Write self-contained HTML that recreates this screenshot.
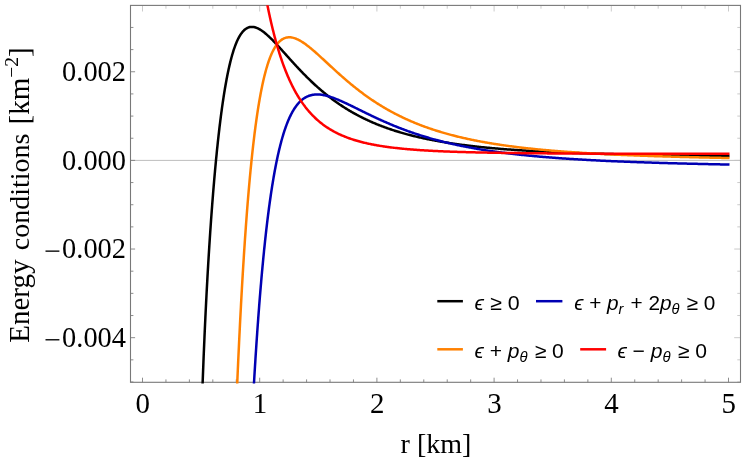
<!DOCTYPE html>
<html><head><meta charset="utf-8"><title>Energy conditions</title>
<style>html,body{margin:0;padding:0;background:#fff;}body{width:747px;height:462px;overflow:hidden;}svg{display:block;will-change:transform;}text{font-family:"Liberation Serif",serif;fill:#000;}.lg{font-family:"Liberation Sans",sans-serif;}</style></head><body>
<svg width="747" height="462" viewBox="0 0 747 462">
<rect x="0" y="0" width="747" height="462" fill="#ffffff"/>
<defs><clipPath id="cp"><rect x="130.00" y="5.20" width="611.00" height="378.20"/></clipPath></defs>
<line x1="130.50" y1="160.40" x2="740.50" y2="160.40" stroke="#bebebe" stroke-width="1"/>
<path d="M142.50 382.30 v-4.60 M165.94 382.30 v-2.90 M189.38 382.30 v-2.90 M212.82 382.30 v-2.90 M236.26 382.30 v-2.90 M259.70 382.30 v-4.60 M283.14 382.30 v-2.90 M306.58 382.30 v-2.90 M330.02 382.30 v-2.90 M353.46 382.30 v-2.90 M376.90 382.30 v-4.60 M400.34 382.30 v-2.90 M423.78 382.30 v-2.90 M447.22 382.30 v-2.90 M470.66 382.30 v-2.90 M494.10 382.30 v-4.60 M517.54 382.30 v-2.90 M540.98 382.30 v-2.90 M564.42 382.30 v-2.90 M587.86 382.30 v-2.90 M611.30 382.30 v-4.60 M634.74 382.30 v-2.90 M658.18 382.30 v-2.90 M681.62 382.30 v-2.90 M705.06 382.30 v-2.90 M728.50 382.30 v-4.60 M130.50 382.00 h2.90 M130.50 359.84 h2.90 M130.50 337.68 h4.60 M130.50 315.52 h2.90 M130.50 293.36 h2.90 M130.50 271.20 h2.90 M130.50 249.04 h4.60 M130.50 226.88 h2.90 M130.50 204.72 h2.90 M130.50 182.56 h2.90 M130.50 160.40 h4.60 M130.50 138.24 h2.90 M130.50 116.08 h2.90 M130.50 93.92 h2.90 M130.50 71.76 h4.60 M130.50 49.60 h2.90 M130.50 27.44 h2.90" stroke="#808080" stroke-width="0.9" fill="none"/>
<path d="M142.50 5.40 v6.10 M165.94 5.40 v3.30 M189.38 5.40 v3.30 M212.82 5.40 v3.30 M236.26 5.40 v3.30 M259.70 5.40 v6.10 M283.14 5.40 v3.30 M306.58 5.40 v3.30 M330.02 5.40 v3.30 M353.46 5.40 v3.30 M376.90 5.40 v6.10 M400.34 5.40 v3.30 M423.78 5.40 v3.30 M447.22 5.40 v3.30 M470.66 5.40 v3.30 M494.10 5.40 v6.10 M517.54 5.40 v3.30 M540.98 5.40 v3.30 M564.42 5.40 v3.30 M587.86 5.40 v3.30 M611.30 5.40 v6.10 M634.74 5.40 v3.30 M658.18 5.40 v3.30 M681.62 5.40 v3.30 M705.06 5.40 v3.30 M728.50 5.40 v6.10 M740.50 382.00 h-3.20 M740.50 359.84 h-3.20 M740.50 337.68 h-6.30 M740.50 315.52 h-3.20 M740.50 293.36 h-3.20 M740.50 271.20 h-3.20 M740.50 249.04 h-6.30 M740.50 226.88 h-3.20 M740.50 204.72 h-3.20 M740.50 182.56 h-3.20 M740.50 160.40 h-6.30 M740.50 138.24 h-3.20 M740.50 116.08 h-3.20 M740.50 93.92 h-3.20 M740.50 71.76 h-6.30 M740.50 49.60 h-3.20 M740.50 27.44 h-3.20" stroke="#c2c2c2" stroke-width="0.85" fill="none"/>
<rect x="130.50" y="5.40" width="610.00" height="376.90" fill="none" stroke="#787878" stroke-width="1.1"/>
<g clip-path="url(#cp)" fill="none" stroke-width="2.50" stroke-linejoin="round" stroke-linecap="butt">
<path d="M202.37 390.33 L202.54 385.41 L202.72 380.57 L202.90 375.83 L203.08 371.16 L203.26 366.58 L203.43 362.08 L203.61 357.66 L203.79 353.31 L203.97 349.03 L204.15 344.83 L204.33 340.69 L204.50 336.62 L204.68 332.61 L204.86 328.67 L205.04 324.78 L205.22 320.95 L205.39 317.18 L205.57 313.47 L205.75 309.81 L205.93 306.21 L206.11 302.65 L206.29 299.14 L206.46 295.69 L206.64 292.28 L206.82 288.92 L207.00 285.60 L207.18 282.32 L207.35 279.09 L207.53 275.90 L207.71 272.76 L207.89 269.65 L208.07 266.58 L208.24 263.55 L208.42 260.56 L208.60 257.60 L208.78 254.68 L208.96 251.80 L209.14 248.95 L209.31 246.13 L209.49 243.35 L209.67 240.60 L209.85 237.88 L210.03 235.19 L210.20 232.54 L210.38 229.91 L210.56 227.31 L210.74 224.75 L210.92 222.21 L211.09 219.70 L211.27 217.22 L211.45 214.77 L211.63 212.34 L211.81 209.94 L211.99 207.56 L212.16 205.22 L212.34 202.89 L212.52 200.60 L212.70 198.32 L212.88 196.08 L213.05 193.85 L213.23 191.65 L213.41 189.47 L213.59 187.32 L213.77 185.19 L213.95 183.08 L214.12 181.00 L214.30 178.93 L214.48 176.89 L214.66 174.87 L214.84 172.87 L215.01 170.90 L215.19 168.94 L215.37 167.00 L215.55 165.09 L215.73 163.19 L215.90 161.32 L216.08 159.46 L216.26 157.62 L216.44 155.81 L216.62 154.01 L216.80 152.23 L216.97 150.47 L217.15 148.73 L217.33 147.01 L217.51 145.30 L217.69 143.62 L217.86 141.95 L218.04 140.30 L218.22 138.67 L218.40 137.05 L218.58 135.45 L218.76 133.87 L218.93 132.31 L219.11 130.76 L219.29 129.23 L219.47 127.72 L219.65 126.22 L219.82 124.74 L220.00 123.28 L220.18 121.83 L220.36 120.39 L220.54 118.98 L220.71 117.57 L220.89 116.19 L221.07 114.82 L221.25 113.46 L221.43 112.12 L221.61 110.80 L221.78 109.49 L221.96 108.19 L222.14 106.91 L222.32 105.64 L222.50 104.39 L222.67 103.15 L222.85 101.93 L223.03 100.72 L223.21 99.52 L223.39 98.34 L223.57 97.17 L223.74 96.02 L223.92 94.87 L224.10 93.75 L224.28 92.63 L224.46 91.53 L224.63 90.44 L224.81 89.37 L224.99 88.30 L225.17 87.25 L225.35 86.21 L225.52 85.19 L225.70 84.18 L225.88 83.18 L226.06 82.19 L226.24 81.21 L226.42 80.25 L226.59 79.30 L226.77 78.36 L226.95 77.43 L227.13 76.51 L227.31 75.61 L227.48 74.71 L227.66 73.83 L227.84 72.96 L228.02 72.10 L228.20 71.25 L228.38 70.41 L228.55 69.58 L228.91 67.96 L229.27 66.38 L229.62 64.85 L229.98 63.35 L230.33 61.89 L230.69 60.48 L231.05 59.10 L231.40 57.76 L231.76 56.46 L232.12 55.19 L232.47 53.97 L232.83 52.77 L233.19 51.62 L233.54 50.49 L233.90 49.40 L234.25 48.35 L234.61 47.33 L234.97 46.34 L235.32 45.38 L235.68 44.45 L236.04 43.55 L236.39 42.68 L236.75 41.85 L237.10 41.04 L237.46 40.25 L237.82 39.50 L238.17 38.77 L238.53 38.08 L238.89 37.40 L239.24 36.75 L239.78 35.83 L240.31 34.96 L240.85 34.14 L241.38 33.38 L241.91 32.67 L242.45 32.00 L242.98 31.38 L243.52 30.81 L244.05 30.29 L244.59 29.80 L245.30 29.22 L246.01 28.72 L246.72 28.28 L247.44 27.90 L248.15 27.59 L249.04 27.29 L249.93 27.08 L250.82 26.95 L251.89 26.90 L252.96 26.96 L253.85 27.08 L254.74 27.27 L255.63 27.53 L256.52 27.84 L257.23 28.13 L257.95 28.45 L258.66 28.80 L259.37 29.19 L260.09 29.60 L260.80 30.04 L261.51 30.50 L262.22 30.99 L262.94 31.51 L263.65 32.04 L264.36 32.60 L265.07 33.17 L265.79 33.76 L266.50 34.37 L267.03 34.84 L267.57 35.32 L268.10 35.81 L268.64 36.30 L269.17 36.80 L269.71 37.31 L270.24 37.82 L270.77 38.35 L271.31 38.87 L271.84 39.41 L272.38 39.95 L272.91 40.49 L273.45 41.04 L273.98 41.59 L274.51 42.15 L275.05 42.71 L275.58 43.28 L276.12 43.85 L276.65 44.42 L277.19 45.00 L277.72 45.57 L278.26 46.16 L278.79 46.74 L279.32 47.32 L279.86 47.91 L280.39 48.50 L280.93 49.09 L281.46 49.68 L282.00 50.28 L282.53 50.87 L283.07 51.47 L283.60 52.06 L284.13 52.66 L284.67 53.26 L285.20 53.85 L285.74 54.45 L286.27 55.05 L286.81 55.64 L287.34 56.24 L287.88 56.84 L288.41 57.43 L288.94 58.03 L289.48 58.62 L290.01 59.22 L290.55 59.81 L291.08 60.40 L291.62 60.99 L292.15 61.58 L292.69 62.17 L293.22 62.76 L293.75 63.34 L294.29 63.92 L294.82 64.51 L295.36 65.09 L295.89 65.67 L296.43 66.24 L296.96 66.82 L297.50 67.39 L298.03 67.96 L298.56 68.53 L299.10 69.10 L299.63 69.66 L300.17 70.23 L300.70 70.79 L301.24 71.35 L301.77 71.90 L302.31 72.46 L302.84 73.01 L303.37 73.56 L303.91 74.10 L304.44 74.65 L304.98 75.19 L305.51 75.73 L306.05 76.26 L306.58 76.80 L307.12 77.33 L307.65 77.86 L308.18 78.38 L308.72 78.90 L309.25 79.42 L309.79 79.94 L310.32 80.46 L310.86 80.97 L311.39 81.48 L311.93 81.98 L312.46 82.49 L312.99 82.99 L313.53 83.49 L314.06 83.98 L314.60 84.48 L315.13 84.97 L315.67 85.45 L316.20 85.94 L316.74 86.42 L317.27 86.90 L317.80 87.37 L318.34 87.84 L318.87 88.31 L319.41 88.78 L320.12 89.40 L320.83 90.01 L321.55 90.62 L322.26 91.22 L322.97 91.82 L323.68 92.41 L324.40 93.00 L325.11 93.58 L325.82 94.16 L326.53 94.73 L327.25 95.30 L327.96 95.87 L328.67 96.42 L329.38 96.98 L330.10 97.52 L330.81 98.07 L331.52 98.61 L332.23 99.14 L332.95 99.67 L333.66 100.19 L334.37 100.71 L335.08 101.23 L335.80 101.74 L336.51 102.24 L337.22 102.74 L337.93 103.24 L338.65 103.73 L339.36 104.21 L340.07 104.70 L340.79 105.17 L341.50 105.65 L342.21 106.12 L342.92 106.58 L343.64 107.04 L344.35 107.50 L345.06 107.95 L345.77 108.39 L346.49 108.84 L347.20 109.28 L347.91 109.71 L348.62 110.14 L349.34 110.57 L350.05 110.99 L350.76 111.41 L351.47 111.82 L352.19 112.23 L352.90 112.64 L353.61 113.04 L354.32 113.44 L355.04 113.83 L355.75 114.22 L356.46 114.61 L357.17 114.99 L357.89 115.37 L358.60 115.75 L359.31 116.12 L360.03 116.49 L360.74 116.85 L361.45 117.21 L362.16 117.57 L362.88 117.93 L363.59 118.28 L364.30 118.62 L365.01 118.97 L365.73 119.31 L366.44 119.65 L367.15 119.98 L367.86 120.31 L368.58 120.64 L369.29 120.96 L370.00 121.28 L370.71 121.60 L371.43 121.92 L372.14 122.23 L372.85 122.54 L373.56 122.84 L374.28 123.15 L374.99 123.45 L375.70 123.74 L376.41 124.04 L377.13 124.33 L377.84 124.62 L378.73 124.97 L379.62 125.33 L380.51 125.67 L381.40 126.02 L382.29 126.36 L383.18 126.69 L384.07 127.02 L384.97 127.35 L385.86 127.67 L386.75 127.99 L387.64 128.31 L388.53 128.62 L389.42 128.93 L390.31 129.23 L391.20 129.53 L392.09 129.83 L392.98 130.12 L393.87 130.41 L394.76 130.69 L395.65 130.98 L396.55 131.26 L397.44 131.53 L398.33 131.80 L399.22 132.07 L400.11 132.34 L401.00 132.60 L401.89 132.86 L402.78 133.12 L403.67 133.37 L404.56 133.62 L405.45 133.87 L406.34 134.11 L407.23 134.35 L408.12 134.59 L409.02 134.83 L409.91 135.06 L410.80 135.29 L411.69 135.51 L412.58 135.74 L413.47 135.96 L414.36 136.18 L415.25 136.40 L416.14 136.61 L417.03 136.82 L417.92 137.03 L418.81 137.24 L419.70 137.44 L420.59 137.64 L421.49 137.84 L422.38 138.04 L423.27 138.23 L424.16 138.42 L425.05 138.61 L425.94 138.80 L426.83 138.99 L427.72 139.17 L428.61 139.35 L429.50 139.53 L430.39 139.71 L431.28 139.88 L432.17 140.06 L433.06 140.23 L433.96 140.39 L434.85 140.56 L435.74 140.73 L436.63 140.89 L437.52 141.05 L438.41 141.21 L439.30 141.37 L440.19 141.52 L441.08 141.68 L441.97 141.83 L442.86 141.98 L443.75 142.13 L444.64 142.27 L445.54 142.42 L446.43 142.56 L447.32 142.70 L448.21 142.84 L449.10 142.98 L449.99 143.12 L450.88 143.26 L451.77 143.39 L452.66 143.52 L453.55 143.65 L454.44 143.78 L455.33 143.91 L456.22 144.04 L457.11 144.16 L458.01 144.29 L458.90 144.41 L459.79 144.53 L460.68 144.65 L461.57 144.77 L462.46 144.88 L463.35 145.00 L464.24 145.11 L465.13 145.23 L466.02 145.34 L466.91 145.45 L467.80 145.56 L468.87 145.69 L469.94 145.82 L471.01 145.94 L472.08 146.07 L473.15 146.19 L474.22 146.31 L475.29 146.43 L476.35 146.55 L477.42 146.66 L478.49 146.78 L479.56 146.89 L480.63 147.01 L481.70 147.12 L482.77 147.23 L483.84 147.33 L484.91 147.44 L485.97 147.54 L487.04 147.65 L488.11 147.75 L489.18 147.85 L490.25 147.95 L491.32 148.05 L492.39 148.15 L493.46 148.24 L494.53 148.34 L495.59 148.43 L496.66 148.52 L497.73 148.61 L498.80 148.70 L499.87 148.79 L500.94 148.88 L502.01 148.97 L503.08 149.05 L504.15 149.14 L505.21 149.22 L506.28 149.30 L507.35 149.38 L508.42 149.46 L509.49 149.54 L510.56 149.62 L511.63 149.70 L512.70 149.78 L513.77 149.85 L514.83 149.93 L515.90 150.00 L516.97 150.07 L518.04 150.14 L519.11 150.22 L520.18 150.29 L521.25 150.35 L522.32 150.42 L523.39 150.49 L524.45 150.56 L525.52 150.62 L526.59 150.69 L527.66 150.75 L528.73 150.82 L529.80 150.88 L530.87 150.94 L531.94 151.00 L533.00 151.06 L534.07 151.12 L535.14 151.18 L536.21 151.24 L537.28 151.30 L538.35 151.36 L539.42 151.41 L540.49 151.47 L541.56 151.52 L542.62 151.58 L543.69 151.63 L544.76 151.69 L545.83 151.74 L546.90 151.79 L547.97 151.84 L549.04 151.89 L550.11 151.94 L551.18 151.99 L552.24 152.04 L553.31 152.09 L554.38 152.14 L555.45 152.19 L556.52 152.23 L557.59 152.28 L558.66 152.33 L559.73 152.37 L560.80 152.42 L561.86 152.46 L562.93 152.50 L564.00 152.55 L565.07 152.59 L566.14 152.63 L567.21 152.67 L568.28 152.72 L569.35 152.76 L570.42 152.80 L571.48 152.84 L572.55 152.88 L573.62 152.92 L574.69 152.96 L575.76 152.99 L576.83 153.03 L577.90 153.07 L578.97 153.11 L580.04 153.14 L581.10 153.18 L582.17 153.22 L583.24 153.25 L584.31 153.29 L585.38 153.32 L586.45 153.36 L587.52 153.39 L588.59 153.42 L589.66 153.46 L590.72 153.49 L591.79 153.52 L592.86 153.56 L593.93 153.59 L595.00 153.62 L596.07 153.65 L597.14 153.68 L598.21 153.71 L599.28 153.74 L600.34 153.77 L601.41 153.80 L602.48 153.83 L603.55 153.86 L604.62 153.89 L605.69 153.92 L606.76 153.95 L607.83 153.97 L608.90 154.00 L609.96 154.03 L611.03 154.06 L612.10 154.08 L613.17 154.11 L614.24 154.14 L615.31 154.16 L616.38 154.19 L617.45 154.21 L618.52 154.24 L619.58 154.26 L620.65 154.29 L621.72 154.31 L622.79 154.34 L623.86 154.36 L624.93 154.39 L626.00 154.41 L627.07 154.43 L628.13 154.46 L629.20 154.48 L630.27 154.50 L631.34 154.53 L632.41 154.55 L633.48 154.57 L634.55 154.59 L635.62 154.61 L636.69 154.64 L637.75 154.66 L638.82 154.68 L639.89 154.70 L640.96 154.72 L642.03 154.74 L643.10 154.76 L644.17 154.78 L645.24 154.80 L646.31 154.82 L647.37 154.84 L648.44 154.86 L649.51 154.88 L650.58 154.90 L651.65 154.92 L652.72 154.94 L653.79 154.95 L654.86 154.97 L655.93 154.99 L656.99 155.01 L658.06 155.03 L659.13 155.05 L660.20 155.06 L661.27 155.08 L662.34 155.10 L663.41 155.12 L664.48 155.13 L665.55 155.15 L666.61 155.17 L667.68 155.18 L668.75 155.20 L669.82 155.22 L670.89 155.23 L671.96 155.25 L673.03 155.26 L674.10 155.28 L675.17 155.30 L676.23 155.31 L677.30 155.33 L678.37 155.34 L679.44 155.36 L680.51 155.37 L681.58 155.39 L682.65 155.40 L683.72 155.42 L684.79 155.43 L685.85 155.45 L686.92 155.46 L687.99 155.47 L689.06 155.49 L690.13 155.50 L691.20 155.52 L692.27 155.53 L693.34 155.54 L694.41 155.56 L695.47 155.57 L696.54 155.58 L697.61 155.60 L698.68 155.61 L699.75 155.62 L700.82 155.64 L701.89 155.65 L702.96 155.66 L704.03 155.68 L705.09 155.69 L706.16 155.70 L707.23 155.71 L708.30 155.73 L709.37 155.74 L710.44 155.75 L711.51 155.76 L712.58 155.77 L713.65 155.79 L714.71 155.80 L715.78 155.81 L716.85 155.82 L717.92 155.83 L718.99 155.84 L720.06 155.86 L721.13 155.87 L722.20 155.88 L723.26 155.89 L724.33 155.90 L725.40 155.91 L726.47 155.92 L727.54 155.93 L728.61 155.95 L729.50 155.95" stroke="#000000"/>
<path d="M236.93 390.26 L237.10 386.08 L237.28 381.95 L237.46 377.85 L237.64 373.80 L237.82 369.79 L238.00 365.83 L238.17 361.90 L238.35 358.02 L238.53 354.18 L238.71 350.38 L238.89 346.61 L239.06 342.89 L239.24 339.21 L239.42 335.56 L239.60 331.95 L239.78 328.38 L239.95 324.85 L240.13 321.36 L240.31 317.90 L240.49 314.48 L240.67 311.09 L240.85 307.74 L241.02 304.43 L241.20 301.15 L241.38 297.91 L241.56 294.69 L241.74 291.52 L241.91 288.38 L242.09 285.27 L242.27 282.19 L242.45 279.15 L242.63 276.13 L242.80 273.15 L242.98 270.21 L243.16 267.29 L243.34 264.40 L243.52 261.55 L243.70 258.73 L243.87 255.93 L244.05 253.17 L244.23 250.43 L244.41 247.73 L244.59 245.05 L244.76 242.40 L244.94 239.78 L245.12 237.19 L245.30 234.63 L245.48 232.09 L245.66 229.58 L245.83 227.10 L246.01 224.65 L246.19 222.22 L246.37 219.82 L246.55 217.44 L246.72 215.09 L246.90 212.77 L247.08 210.47 L247.26 208.19 L247.44 205.94 L247.61 203.72 L247.79 201.51 L247.97 199.34 L248.15 197.18 L248.33 195.05 L248.51 192.95 L248.68 190.86 L248.86 188.80 L249.04 186.77 L249.22 184.75 L249.40 182.76 L249.57 180.79 L249.75 178.84 L249.93 176.91 L250.11 175.00 L250.29 173.12 L250.47 171.25 L250.64 169.41 L250.82 167.59 L251.00 165.78 L251.18 164.00 L251.36 162.24 L251.53 160.49 L251.71 158.77 L251.89 157.07 L252.07 155.38 L252.25 153.72 L252.42 152.07 L252.60 150.44 L252.78 148.83 L252.96 147.24 L253.14 145.66 L253.32 144.11 L253.49 142.57 L253.67 141.05 L253.85 139.54 L254.03 138.06 L254.21 136.59 L254.38 135.14 L254.56 133.70 L254.74 132.28 L254.92 130.88 L255.10 129.49 L255.28 128.12 L255.45 126.77 L255.63 125.43 L255.81 124.11 L255.99 122.80 L256.17 121.51 L256.34 120.23 L256.52 118.97 L256.70 117.72 L256.88 116.49 L257.06 115.27 L257.23 114.07 L257.41 112.88 L257.59 111.70 L257.77 110.54 L257.95 109.39 L258.13 108.26 L258.30 107.14 L258.48 106.03 L258.66 104.94 L258.84 103.86 L259.02 102.79 L259.19 101.74 L259.37 100.70 L259.55 99.67 L259.73 98.65 L259.91 97.65 L260.09 96.66 L260.26 95.68 L260.44 94.71 L260.62 93.76 L260.80 92.81 L260.98 91.88 L261.15 90.96 L261.33 90.05 L261.51 89.16 L261.69 88.27 L261.87 87.40 L262.04 86.53 L262.22 85.68 L262.40 84.84 L262.58 84.01 L262.94 82.38 L263.29 80.79 L263.65 79.25 L264.00 77.74 L264.36 76.27 L264.72 74.84 L265.07 73.45 L265.43 72.10 L265.79 70.78 L266.14 69.50 L266.50 68.25 L266.85 67.04 L267.21 65.86 L267.57 64.71 L267.92 63.60 L268.28 62.51 L268.64 61.46 L268.99 60.44 L269.35 59.45 L269.71 58.49 L270.06 57.56 L270.42 56.65 L270.77 55.77 L271.13 54.92 L271.49 54.10 L271.84 53.30 L272.20 52.53 L272.56 51.78 L272.91 51.06 L273.27 50.36 L273.62 49.68 L273.98 49.03 L274.51 48.09 L275.05 47.20 L275.58 46.36 L276.12 45.57 L276.65 44.82 L277.19 44.11 L277.72 43.45 L278.26 42.82 L278.79 42.24 L279.32 41.70 L279.86 41.19 L280.39 40.72 L281.11 40.14 L281.82 39.63 L282.53 39.17 L283.24 38.77 L283.96 38.42 L284.67 38.13 L285.56 37.82 L286.45 37.59 L287.34 37.43 L288.41 37.31 L289.48 37.29 L290.55 37.35 L291.62 37.48 L292.51 37.64 L293.40 37.86 L294.29 38.11 L295.18 38.41 L296.07 38.75 L296.78 39.05 L297.50 39.36 L298.21 39.71 L298.92 40.07 L299.63 40.45 L300.35 40.85 L301.06 41.27 L301.77 41.70 L302.48 42.15 L303.20 42.62 L303.91 43.10 L304.62 43.59 L305.33 44.10 L306.05 44.61 L306.76 45.14 L307.47 45.68 L308.18 46.24 L308.90 46.80 L309.61 47.37 L310.32 47.94 L311.03 48.53 L311.75 49.12 L312.46 49.72 L313.17 50.33 L313.89 50.95 L314.60 51.56 L315.13 52.03 L315.67 52.50 L316.20 52.97 L316.74 53.45 L317.27 53.93 L317.80 54.41 L318.34 54.89 L318.87 55.37 L319.41 55.86 L319.94 56.34 L320.48 56.83 L321.01 57.32 L321.55 57.81 L322.08 58.30 L322.61 58.79 L323.15 59.28 L323.68 59.78 L324.22 60.27 L324.75 60.77 L325.29 61.26 L325.82 61.76 L326.36 62.25 L326.89 62.75 L327.42 63.24 L327.96 63.74 L328.49 64.23 L329.03 64.73 L329.56 65.22 L330.10 65.72 L330.63 66.21 L331.17 66.71 L331.70 67.20 L332.23 67.69 L332.77 68.18 L333.30 68.67 L333.84 69.16 L334.37 69.65 L334.91 70.14 L335.44 70.63 L335.98 71.11 L336.51 71.60 L337.04 72.08 L337.58 72.56 L338.11 73.04 L338.65 73.52 L339.18 74.00 L339.72 74.48 L340.25 74.96 L340.79 75.43 L341.32 75.90 L341.85 76.38 L342.39 76.85 L342.92 77.31 L343.46 77.78 L344.17 78.40 L344.88 79.02 L345.60 79.63 L346.31 80.24 L347.02 80.85 L347.73 81.45 L348.45 82.06 L349.16 82.65 L349.87 83.25 L350.58 83.84 L351.30 84.43 L352.01 85.01 L352.72 85.59 L353.43 86.17 L354.15 86.74 L354.86 87.31 L355.57 87.88 L356.28 88.45 L357.00 89.01 L357.71 89.56 L358.42 90.11 L359.13 90.66 L359.85 91.21 L360.56 91.75 L361.27 92.29 L361.98 92.82 L362.70 93.35 L363.41 93.88 L364.12 94.40 L364.84 94.92 L365.55 95.44 L366.26 95.95 L366.97 96.46 L367.69 96.96 L368.40 97.46 L369.11 97.96 L369.82 98.46 L370.54 98.95 L371.25 99.43 L371.96 99.92 L372.67 100.39 L373.39 100.87 L374.10 101.34 L374.81 101.81 L375.52 102.28 L376.24 102.74 L376.95 103.19 L377.66 103.65 L378.37 104.10 L379.09 104.55 L379.80 104.99 L380.51 105.43 L381.22 105.86 L381.94 106.30 L382.65 106.73 L383.36 107.15 L384.07 107.58 L384.79 108.00 L385.50 108.41 L386.21 108.82 L386.93 109.23 L387.64 109.64 L388.35 110.04 L389.06 110.44 L389.78 110.84 L390.49 111.23 L391.20 111.62 L391.91 112.01 L392.63 112.39 L393.34 112.77 L394.05 113.15 L394.76 113.52 L395.48 113.89 L396.19 114.26 L396.90 114.62 L397.61 114.98 L398.33 115.34 L399.04 115.70 L399.75 116.05 L400.46 116.40 L401.18 116.74 L401.89 117.09 L402.60 117.43 L403.31 117.77 L404.03 118.10 L404.74 118.43 L405.45 118.76 L406.16 119.09 L406.88 119.41 L407.59 119.73 L408.30 120.05 L409.02 120.37 L409.73 120.68 L410.44 120.99 L411.15 121.30 L411.87 121.60 L412.58 121.91 L413.29 122.21 L414.00 122.50 L414.72 122.80 L415.43 123.09 L416.14 123.38 L417.03 123.74 L417.92 124.09 L418.81 124.44 L419.70 124.79 L420.59 125.13 L421.49 125.47 L422.38 125.81 L423.27 126.14 L424.16 126.47 L425.05 126.80 L425.94 127.12 L426.83 127.44 L427.72 127.75 L428.61 128.06 L429.50 128.37 L430.39 128.68 L431.28 128.98 L432.17 129.28 L433.06 129.57 L433.96 129.86 L434.85 130.15 L435.74 130.44 L436.63 130.72 L437.52 131.00 L438.41 131.28 L439.30 131.55 L440.19 131.82 L441.08 132.09 L441.97 132.36 L442.86 132.62 L443.75 132.88 L444.64 133.13 L445.54 133.39 L446.43 133.64 L447.32 133.89 L448.21 134.13 L449.10 134.38 L449.99 134.62 L450.88 134.86 L451.77 135.09 L452.66 135.33 L453.55 135.56 L454.44 135.78 L455.33 136.01 L456.22 136.23 L457.11 136.45 L458.01 136.67 L458.90 136.89 L459.79 137.10 L460.68 137.31 L461.57 137.52 L462.46 137.73 L463.35 137.94 L464.24 138.14 L465.13 138.34 L466.02 138.54 L466.91 138.74 L467.80 138.93 L468.69 139.12 L469.58 139.31 L470.48 139.50 L471.37 139.69 L472.26 139.87 L473.15 140.05 L474.04 140.24 L474.93 140.41 L475.82 140.59 L476.71 140.77 L477.60 140.94 L478.49 141.11 L479.38 141.28 L480.27 141.45 L481.16 141.61 L482.06 141.78 L482.95 141.94 L483.84 142.10 L484.73 142.26 L485.62 142.42 L486.51 142.58 L487.40 142.73 L488.29 142.88 L489.18 143.03 L490.07 143.18 L490.96 143.33 L491.85 143.48 L492.74 143.62 L493.63 143.77 L494.53 143.91 L495.42 144.05 L496.31 144.19 L497.20 144.33 L498.09 144.46 L498.98 144.60 L499.87 144.73 L500.76 144.87 L501.65 145.00 L502.54 145.13 L503.43 145.26 L504.32 145.38 L505.21 145.51 L506.10 145.63 L507.00 145.76 L507.89 145.88 L508.78 146.00 L509.67 146.12 L510.56 146.24 L511.45 146.36 L512.34 146.47 L513.23 146.59 L514.12 146.70 L515.01 146.81 L515.90 146.93 L516.79 147.04 L517.68 147.15 L518.75 147.28 L519.82 147.40 L520.89 147.53 L521.96 147.66 L523.03 147.78 L524.10 147.90 L525.17 148.02 L526.24 148.14 L527.30 148.26 L528.37 148.38 L529.44 148.49 L530.51 148.61 L531.58 148.72 L532.65 148.83 L533.72 148.94 L534.79 149.05 L535.86 149.16 L536.92 149.27 L537.99 149.37 L539.06 149.48 L540.13 149.58 L541.20 149.68 L542.27 149.78 L543.34 149.88 L544.41 149.98 L545.48 150.08 L546.54 150.17 L547.61 150.27 L548.68 150.36 L549.75 150.45 L550.82 150.55 L551.89 150.64 L552.96 150.73 L554.03 150.82 L555.10 150.90 L556.16 150.99 L557.23 151.08 L558.30 151.16 L559.37 151.25 L560.44 151.33 L561.51 151.41 L562.58 151.49 L563.65 151.57 L564.71 151.65 L565.78 151.73 L566.85 151.81 L567.92 151.89 L568.99 151.96 L570.06 152.04 L571.13 152.11 L572.20 152.19 L573.27 152.26 L574.33 152.33 L575.40 152.40 L576.47 152.47 L577.54 152.54 L578.61 152.61 L579.68 152.68 L580.75 152.75 L581.82 152.82 L582.89 152.88 L583.95 152.95 L585.02 153.01 L586.09 153.08 L587.16 153.14 L588.23 153.20 L589.30 153.27 L590.37 153.33 L591.44 153.39 L592.51 153.45 L593.57 153.51 L594.64 153.57 L595.71 153.63 L596.78 153.69 L597.85 153.74 L598.92 153.80 L599.99 153.86 L601.06 153.91 L602.13 153.97 L603.19 154.02 L604.26 154.08 L605.33 154.13 L606.40 154.18 L607.47 154.24 L608.54 154.29 L609.61 154.34 L610.68 154.39 L611.75 154.44 L612.81 154.49 L613.88 154.54 L614.95 154.59 L616.02 154.64 L617.09 154.69 L618.16 154.74 L619.23 154.78 L620.30 154.83 L621.37 154.88 L622.43 154.92 L623.50 154.97 L624.57 155.01 L625.64 155.06 L626.71 155.10 L627.78 155.15 L628.85 155.19 L629.92 155.23 L630.99 155.28 L632.05 155.32 L633.12 155.36 L634.19 155.40 L635.26 155.44 L636.33 155.49 L637.40 155.53 L638.47 155.57 L639.54 155.61 L640.61 155.64 L641.67 155.68 L642.74 155.72 L643.81 155.76 L644.88 155.80 L645.95 155.84 L647.02 155.87 L648.09 155.91 L649.16 155.95 L650.23 155.98 L651.29 156.02 L652.36 156.06 L653.43 156.09 L654.50 156.13 L655.57 156.16 L656.64 156.20 L657.71 156.23 L658.78 156.27 L659.84 156.30 L660.91 156.33 L661.98 156.37 L663.05 156.40 L664.12 156.43 L665.19 156.46 L666.26 156.50 L667.33 156.53 L668.40 156.56 L669.46 156.59 L670.53 156.62 L671.60 156.65 L672.67 156.68 L673.74 156.72 L674.81 156.75 L675.88 156.78 L676.95 156.81 L678.02 156.83 L679.08 156.86 L680.15 156.89 L681.22 156.92 L682.29 156.95 L683.36 156.98 L684.43 157.01 L685.50 157.04 L686.57 157.06 L687.64 157.09 L688.70 157.12 L689.77 157.15 L690.84 157.17 L691.91 157.20 L692.98 157.23 L694.05 157.25 L695.12 157.28 L696.19 157.30 L697.26 157.33 L698.32 157.36 L699.39 157.38 L700.46 157.41 L701.53 157.43 L702.60 157.46 L703.67 157.48 L704.74 157.51 L705.81 157.53 L706.88 157.56 L707.94 157.58 L709.01 157.60 L710.08 157.63 L711.15 157.65 L712.22 157.67 L713.29 157.70 L714.36 157.72 L715.43 157.74 L716.50 157.77 L717.56 157.79 L718.63 157.81 L719.70 157.83 L720.77 157.86 L721.84 157.88 L722.91 157.90 L723.98 157.92 L725.05 157.95 L726.12 157.97 L727.18 157.99 L728.25 158.01 L729.32 158.03 L729.50 158.03" stroke="#ff8000"/>
<path d="M253.49 391.49 L253.67 388.39 L253.85 385.32 L254.03 382.28 L254.21 379.27 L254.38 376.29 L254.56 373.34 L254.74 370.42 L254.92 367.52 L255.10 364.65 L255.28 361.81 L255.45 358.99 L255.63 356.20 L255.81 353.44 L255.99 350.71 L256.17 348.00 L256.34 345.32 L256.52 342.66 L256.70 340.02 L256.88 337.42 L257.06 334.83 L257.23 332.28 L257.41 329.74 L257.59 327.23 L257.77 324.75 L257.95 322.29 L258.13 319.85 L258.30 317.43 L258.48 315.04 L258.66 312.67 L258.84 310.33 L259.02 308.00 L259.19 305.70 L259.37 303.42 L259.55 301.16 L259.73 298.93 L259.91 296.71 L260.09 294.52 L260.26 292.34 L260.44 290.19 L260.62 288.06 L260.80 285.95 L260.98 283.86 L261.15 281.79 L261.33 279.74 L261.51 277.71 L261.69 275.70 L261.87 273.70 L262.04 271.73 L262.22 269.78 L262.40 267.84 L262.58 265.93 L262.76 264.03 L262.94 262.15 L263.11 260.29 L263.29 258.44 L263.47 256.62 L263.65 254.81 L263.83 253.02 L264.00 251.25 L264.18 249.49 L264.36 247.75 L264.54 246.03 L264.72 244.32 L264.90 242.63 L265.07 240.96 L265.25 239.30 L265.43 237.66 L265.61 236.04 L265.79 234.43 L265.96 232.84 L266.14 231.26 L266.32 229.70 L266.50 228.15 L266.68 226.62 L266.85 225.10 L267.03 223.60 L267.21 222.11 L267.39 220.64 L267.57 219.18 L267.75 217.74 L267.92 216.31 L268.10 214.89 L268.28 213.49 L268.46 212.10 L268.64 210.73 L268.81 209.37 L268.99 208.02 L269.17 206.68 L269.35 205.36 L269.53 204.06 L269.71 202.76 L269.88 201.48 L270.06 200.21 L270.24 198.95 L270.42 197.71 L270.60 196.47 L270.77 195.25 L270.95 194.05 L271.13 192.85 L271.31 191.67 L271.49 190.50 L271.66 189.33 L271.84 188.19 L272.02 187.05 L272.20 185.92 L272.38 184.81 L272.56 183.70 L272.73 182.61 L272.91 181.53 L273.09 180.46 L273.27 179.40 L273.45 178.35 L273.62 177.31 L273.80 176.29 L273.98 175.27 L274.16 174.26 L274.34 173.26 L274.51 172.28 L274.69 171.30 L274.87 170.33 L275.05 169.38 L275.23 168.43 L275.41 167.49 L275.58 166.56 L275.76 165.64 L275.94 164.74 L276.12 163.84 L276.30 162.94 L276.47 162.06 L276.65 161.19 L276.83 160.33 L277.01 159.47 L277.19 158.63 L277.37 157.79 L277.54 156.96 L277.90 155.33 L278.26 153.74 L278.61 152.17 L278.97 150.64 L279.32 149.14 L279.68 147.68 L280.04 146.24 L280.39 144.83 L280.75 143.46 L281.11 142.11 L281.46 140.79 L281.82 139.50 L282.18 138.24 L282.53 137.01 L282.89 135.80 L283.24 134.62 L283.60 133.46 L283.96 132.33 L284.31 131.22 L284.67 130.14 L285.03 129.09 L285.38 128.05 L285.74 127.04 L286.09 126.05 L286.45 125.09 L286.81 124.15 L287.16 123.22 L287.52 122.32 L287.88 121.44 L288.23 120.59 L288.59 119.75 L288.94 118.93 L289.30 118.13 L289.66 117.35 L290.01 116.58 L290.37 115.84 L290.73 115.11 L291.08 114.40 L291.44 113.71 L291.80 113.04 L292.15 112.38 L292.69 111.43 L293.22 110.51 L293.75 109.63 L294.29 108.78 L294.82 107.96 L295.36 107.18 L295.89 106.42 L296.43 105.70 L296.96 105.01 L297.50 104.35 L298.03 103.71 L298.56 103.10 L299.10 102.52 L299.63 101.97 L300.17 101.44 L300.70 100.94 L301.24 100.45 L301.95 99.85 L302.66 99.28 L303.37 98.76 L304.09 98.27 L304.80 97.82 L305.51 97.40 L306.22 97.01 L306.94 96.66 L307.65 96.33 L308.36 96.04 L309.25 95.71 L310.14 95.43 L311.03 95.18 L311.93 94.98 L312.82 94.81 L313.71 94.68 L314.78 94.56 L315.84 94.49 L316.91 94.46 L317.98 94.47 L319.05 94.52 L320.12 94.61 L321.19 94.73 L322.08 94.85 L322.97 95.00 L323.86 95.16 L324.75 95.35 L325.64 95.55 L326.53 95.77 L327.42 96.00 L328.32 96.25 L329.21 96.51 L330.10 96.79 L330.99 97.08 L331.88 97.38 L332.77 97.69 L333.66 98.02 L334.55 98.35 L335.44 98.69 L336.33 99.04 L337.22 99.40 L337.93 99.70 L338.65 99.99 L339.36 100.30 L340.07 100.60 L340.79 100.91 L341.50 101.23 L342.21 101.55 L342.92 101.87 L343.64 102.19 L344.35 102.52 L345.06 102.85 L345.77 103.18 L346.49 103.51 L347.20 103.85 L347.91 104.19 L348.62 104.53 L349.34 104.87 L350.05 105.22 L350.76 105.56 L351.47 105.91 L352.19 106.25 L352.90 106.60 L353.61 106.95 L354.32 107.30 L355.04 107.65 L355.75 108.00 L356.46 108.35 L357.17 108.70 L357.89 109.06 L358.60 109.41 L359.31 109.76 L360.03 110.11 L360.74 110.46 L361.45 110.82 L362.16 111.17 L362.88 111.52 L363.59 111.87 L364.30 112.22 L365.01 112.57 L365.73 112.92 L366.44 113.26 L367.15 113.61 L367.86 113.96 L368.58 114.30 L369.29 114.65 L370.00 114.99 L370.71 115.33 L371.43 115.67 L372.14 116.01 L372.85 116.35 L373.56 116.69 L374.28 117.03 L374.99 117.36 L375.70 117.69 L376.41 118.03 L377.13 118.36 L377.84 118.69 L378.55 119.02 L379.26 119.34 L379.98 119.67 L380.69 119.99 L381.40 120.31 L382.12 120.63 L382.83 120.95 L383.54 121.27 L384.25 121.59 L384.97 121.90 L385.68 122.21 L386.39 122.52 L387.10 122.83 L387.82 123.14 L388.53 123.45 L389.24 123.75 L389.95 124.05 L390.67 124.35 L391.38 124.65 L392.09 124.95 L392.80 125.25 L393.52 125.54 L394.23 125.83 L394.94 126.12 L395.65 126.41 L396.55 126.77 L397.44 127.12 L398.33 127.47 L399.22 127.82 L400.11 128.17 L401.00 128.51 L401.89 128.86 L402.78 129.19 L403.67 129.53 L404.56 129.86 L405.45 130.19 L406.34 130.52 L407.23 130.84 L408.12 131.17 L409.02 131.48 L409.91 131.80 L410.80 132.11 L411.69 132.42 L412.58 132.73 L413.47 133.04 L414.36 133.34 L415.25 133.64 L416.14 133.94 L417.03 134.23 L417.92 134.52 L418.81 134.81 L419.70 135.10 L420.59 135.38 L421.49 135.66 L422.38 135.94 L423.27 136.22 L424.16 136.49 L425.05 136.76 L425.94 137.03 L426.83 137.30 L427.72 137.56 L428.61 137.82 L429.50 138.08 L430.39 138.34 L431.28 138.59 L432.17 138.84 L433.06 139.09 L433.96 139.34 L434.85 139.58 L435.74 139.83 L436.63 140.07 L437.52 140.30 L438.41 140.54 L439.30 140.77 L440.19 141.00 L441.08 141.23 L441.97 141.46 L442.86 141.68 L443.75 141.90 L444.64 142.12 L445.54 142.34 L446.43 142.56 L447.32 142.77 L448.21 142.98 L449.10 143.19 L449.99 143.40 L450.88 143.60 L451.77 143.81 L452.66 144.01 L453.55 144.21 L454.44 144.40 L455.33 144.60 L456.22 144.79 L457.11 144.98 L458.01 145.17 L458.90 145.36 L459.79 145.55 L460.68 145.73 L461.57 145.91 L462.46 146.10 L463.35 146.27 L464.24 146.45 L465.13 146.63 L466.02 146.80 L466.91 146.97 L467.80 147.14 L468.69 147.31 L469.58 147.48 L470.48 147.64 L471.37 147.81 L472.26 147.97 L473.15 148.13 L474.04 148.29 L474.93 148.45 L475.82 148.60 L476.71 148.76 L477.60 148.91 L478.49 149.06 L479.38 149.21 L480.27 149.36 L481.16 149.51 L482.06 149.65 L482.95 149.80 L483.84 149.94 L484.73 150.08 L485.62 150.22 L486.51 150.36 L487.40 150.50 L488.29 150.63 L489.18 150.77 L490.07 150.90 L490.96 151.03 L491.85 151.16 L492.74 151.29 L493.63 151.42 L494.53 151.55 L495.42 151.67 L496.31 151.80 L497.20 151.92 L498.09 152.04 L498.98 152.16 L499.87 152.28 L500.76 152.40 L501.65 152.52 L502.54 152.63 L503.43 152.75 L504.32 152.86 L505.21 152.98 L506.10 153.09 L507.00 153.20 L507.89 153.31 L508.96 153.44 L510.02 153.57 L511.09 153.70 L512.16 153.82 L513.23 153.95 L514.30 154.07 L515.37 154.19 L516.44 154.31 L517.51 154.43 L518.58 154.55 L519.64 154.66 L520.71 154.78 L521.78 154.89 L522.85 155.00 L523.92 155.12 L524.99 155.23 L526.06 155.33 L527.13 155.44 L528.19 155.55 L529.26 155.65 L530.33 155.76 L531.40 155.86 L532.47 155.96 L533.54 156.06 L534.61 156.16 L535.68 156.26 L536.75 156.36 L537.81 156.45 L538.88 156.55 L539.95 156.64 L541.02 156.73 L542.09 156.82 L543.16 156.92 L544.23 157.01 L545.30 157.09 L546.37 157.18 L547.43 157.27 L548.50 157.36 L549.57 157.44 L550.64 157.52 L551.71 157.61 L552.78 157.69 L553.85 157.77 L554.92 157.85 L555.99 157.93 L557.05 158.01 L558.12 158.09 L559.19 158.17 L560.26 158.24 L561.33 158.32 L562.40 158.39 L563.47 158.47 L564.54 158.54 L565.61 158.61 L566.67 158.68 L567.74 158.76 L568.81 158.83 L569.88 158.90 L570.95 158.96 L572.02 159.03 L573.09 159.10 L574.16 159.17 L575.23 159.23 L576.29 159.30 L577.36 159.36 L578.43 159.43 L579.50 159.49 L580.57 159.55 L581.64 159.62 L582.71 159.68 L583.78 159.74 L584.85 159.80 L585.91 159.86 L586.98 159.92 L588.05 159.98 L589.12 160.03 L590.19 160.09 L591.26 160.15 L592.33 160.20 L593.40 160.26 L594.47 160.31 L595.53 160.37 L596.60 160.42 L597.67 160.48 L598.74 160.53 L599.81 160.58 L600.88 160.63 L601.95 160.69 L603.02 160.74 L604.09 160.79 L605.15 160.84 L606.22 160.89 L607.29 160.94 L608.36 160.99 L609.43 161.03 L610.50 161.08 L611.57 161.13 L612.64 161.18 L613.71 161.22 L614.77 161.27 L615.84 161.31 L616.91 161.36 L617.98 161.40 L619.05 161.45 L620.12 161.49 L621.19 161.54 L622.26 161.58 L623.32 161.62 L624.39 161.66 L625.46 161.71 L626.53 161.75 L627.60 161.79 L628.67 161.83 L629.74 161.87 L630.81 161.91 L631.88 161.95 L632.94 161.99 L634.01 162.03 L635.08 162.07 L636.15 162.11 L637.22 162.15 L638.29 162.18 L639.36 162.22 L640.43 162.26 L641.50 162.29 L642.56 162.33 L643.63 162.37 L644.70 162.40 L645.77 162.44 L646.84 162.48 L647.91 162.51 L648.98 162.55 L650.05 162.58 L651.12 162.61 L652.18 162.65 L653.25 162.68 L654.32 162.72 L655.39 162.75 L656.46 162.78 L657.53 162.81 L658.60 162.85 L659.67 162.88 L660.74 162.91 L661.80 162.94 L662.87 162.97 L663.94 163.01 L665.01 163.04 L666.08 163.07 L667.15 163.10 L668.22 163.13 L669.29 163.16 L670.36 163.19 L671.42 163.22 L672.49 163.25 L673.56 163.28 L674.63 163.31 L675.70 163.33 L676.77 163.36 L677.84 163.39 L678.91 163.42 L679.98 163.45 L681.04 163.48 L682.11 163.50 L683.18 163.53 L684.25 163.56 L685.32 163.58 L686.39 163.61 L687.46 163.64 L688.53 163.66 L689.60 163.69 L690.66 163.72 L691.73 163.74 L692.80 163.77 L693.87 163.79 L694.94 163.82 L696.01 163.84 L697.08 163.87 L698.15 163.89 L699.22 163.92 L700.28 163.94 L701.35 163.97 L702.42 163.99 L703.49 164.02 L704.56 164.04 L705.63 164.06 L706.70 164.09 L707.77 164.11 L708.84 164.14 L709.90 164.16 L710.97 164.18 L712.04 164.20 L713.11 164.23 L714.18 164.25 L715.25 164.27 L716.32 164.29 L717.39 164.32 L718.45 164.34 L719.52 164.36 L720.59 164.38 L721.66 164.41 L722.73 164.43 L723.80 164.45 L724.87 164.47 L725.94 164.49 L727.01 164.51 L728.07 164.53 L729.14 164.55 L729.50 164.56" stroke="#0000b3"/>
<path d="M265.25 -6.13 L265.43 -5.17 L265.61 -4.21 L265.79 -3.25 L265.96 -2.30 L266.14 -1.36 L266.32 -0.43 L266.50 0.50 L266.68 1.42 L266.85 2.33 L267.03 3.24 L267.21 4.14 L267.39 5.04 L267.57 5.93 L267.75 6.81 L267.92 7.69 L268.10 8.56 L268.28 9.42 L268.46 10.28 L268.64 11.14 L268.81 11.98 L268.99 12.82 L269.17 13.66 L269.35 14.49 L269.53 15.31 L269.88 16.94 L270.24 18.55 L270.60 20.13 L270.95 21.70 L271.31 23.24 L271.66 24.76 L272.02 26.26 L272.38 27.74 L272.73 29.20 L273.09 30.64 L273.45 32.06 L273.80 33.47 L274.16 34.85 L274.51 36.21 L274.87 37.56 L275.23 38.89 L275.58 40.20 L275.94 41.49 L276.30 42.77 L276.65 44.02 L277.01 45.27 L277.37 46.49 L277.72 47.70 L278.08 48.90 L278.43 50.07 L278.79 51.24 L279.15 52.38 L279.50 53.52 L279.86 54.63 L280.22 55.74 L280.57 56.83 L280.93 57.90 L281.28 58.96 L281.64 60.01 L282.00 61.04 L282.35 62.06 L282.71 63.07 L283.07 64.06 L283.42 65.05 L283.78 66.01 L284.13 66.97 L284.49 67.92 L284.85 68.85 L285.20 69.77 L285.56 70.68 L285.92 71.58 L286.27 72.46 L286.63 73.34 L286.99 74.20 L287.34 75.05 L287.70 75.90 L288.05 76.73 L288.41 77.55 L288.77 78.36 L289.12 79.16 L289.48 79.96 L289.84 80.74 L290.19 81.51 L290.55 82.27 L290.90 83.03 L291.26 83.77 L291.62 84.50 L291.97 85.23 L292.33 85.95 L292.69 86.66 L293.04 87.35 L293.40 88.05 L293.75 88.73 L294.11 89.40 L294.47 90.07 L294.82 90.73 L295.18 91.38 L295.71 92.34 L296.25 93.28 L296.78 94.21 L297.32 95.12 L297.85 96.01 L298.39 96.89 L298.92 97.75 L299.46 98.60 L299.99 99.43 L300.52 100.25 L301.06 101.05 L301.59 101.84 L302.13 102.62 L302.66 103.38 L303.20 104.13 L303.73 104.87 L304.27 105.59 L304.80 106.30 L305.33 107.00 L305.87 107.68 L306.40 108.36 L306.94 109.02 L307.47 109.67 L308.01 110.31 L308.54 110.94 L309.08 111.56 L309.61 112.17 L310.14 112.77 L310.68 113.36 L311.21 113.94 L311.75 114.51 L312.28 115.07 L312.82 115.62 L313.35 116.16 L313.89 116.69 L314.42 117.22 L314.95 117.73 L315.49 118.24 L316.02 118.73 L316.56 119.22 L317.09 119.71 L317.63 120.18 L318.16 120.65 L318.87 121.26 L319.59 121.85 L320.30 122.44 L321.01 123.01 L321.72 123.57 L322.44 124.12 L323.15 124.65 L323.86 125.18 L324.57 125.69 L325.29 126.20 L326.00 126.69 L326.71 127.17 L327.42 127.64 L328.14 128.11 L328.85 128.56 L329.56 129.00 L330.27 129.44 L330.99 129.86 L331.70 130.28 L332.41 130.69 L333.13 131.09 L333.84 131.48 L334.55 131.87 L335.26 132.24 L335.98 132.61 L336.69 132.97 L337.40 133.33 L338.11 133.67 L338.83 134.02 L339.54 134.35 L340.25 134.68 L340.96 135.00 L341.68 135.31 L342.39 135.62 L343.10 135.92 L343.81 136.22 L344.53 136.51 L345.42 136.86 L346.31 137.21 L347.20 137.55 L348.09 137.88 L348.98 138.20 L349.87 138.52 L350.76 138.83 L351.65 139.13 L352.54 139.42 L353.43 139.71 L354.32 139.99 L355.22 140.26 L356.11 140.53 L357.00 140.79 L357.89 141.04 L358.78 141.29 L359.67 141.54 L360.56 141.77 L361.45 142.01 L362.34 142.23 L363.23 142.46 L364.12 142.67 L365.01 142.89 L365.90 143.09 L366.79 143.30 L367.69 143.49 L368.58 143.69 L369.47 143.88 L370.36 144.06 L371.25 144.25 L372.14 144.42 L373.03 144.60 L373.92 144.77 L374.81 144.93 L375.70 145.10 L376.59 145.26 L377.48 145.41 L378.37 145.56 L379.26 145.71 L380.16 145.86 L381.05 146.00 L381.94 146.14 L382.83 146.28 L383.72 146.42 L384.61 146.55 L385.50 146.68 L386.39 146.80 L387.28 146.93 L388.17 147.05 L389.06 147.17 L389.95 147.28 L390.84 147.40 L391.74 147.51 L392.63 147.62 L393.69 147.74 L394.76 147.87 L395.83 147.99 L396.90 148.11 L397.97 148.23 L399.04 148.34 L400.11 148.45 L401.18 148.56 L402.25 148.67 L403.31 148.77 L404.38 148.87 L405.45 148.97 L406.52 149.07 L407.59 149.16 L408.66 149.25 L409.73 149.34 L410.80 149.43 L411.87 149.52 L412.93 149.60 L414.00 149.68 L415.07 149.76 L416.14 149.84 L417.21 149.92 L418.28 149.99 L419.35 150.07 L420.42 150.14 L421.49 150.21 L422.55 150.28 L423.62 150.34 L424.69 150.41 L425.76 150.47 L426.83 150.54 L427.90 150.60 L428.97 150.66 L430.04 150.72 L431.11 150.78 L432.17 150.83 L433.24 150.89 L434.31 150.94 L435.38 151.00 L436.45 151.05 L437.52 151.10 L438.59 151.15 L439.66 151.20 L440.73 151.25 L441.79 151.29 L442.86 151.34 L443.93 151.38 L445.00 151.43 L446.07 151.47 L447.14 151.51 L448.21 151.55 L449.28 151.60 L450.35 151.63 L451.41 151.67 L452.48 151.71 L453.55 151.75 L454.62 151.79 L455.69 151.82 L456.76 151.86 L457.83 151.89 L458.90 151.93 L459.97 151.96 L461.03 151.99 L462.10 152.03 L463.17 152.06 L464.24 152.09 L465.31 152.12 L466.38 152.15 L467.45 152.18 L468.52 152.21 L469.58 152.23 L470.65 152.26 L471.72 152.29 L472.79 152.32 L473.86 152.34 L474.93 152.37 L476.00 152.39 L477.07 152.42 L478.14 152.44 L479.20 152.47 L480.27 152.49 L481.34 152.51 L482.41 152.53 L483.48 152.56 L484.55 152.58 L485.62 152.60 L486.69 152.62 L487.76 152.64 L488.82 152.66 L489.89 152.68 L490.96 152.70 L492.03 152.72 L493.10 152.74 L494.17 152.76 L495.24 152.78 L496.31 152.79 L497.38 152.81 L498.44 152.83 L499.51 152.85 L500.58 152.86 L501.65 152.88 L502.72 152.90 L503.79 152.91 L504.86 152.93 L505.93 152.94 L507.00 152.96 L508.06 152.97 L509.13 152.99 L510.20 153.00 L511.27 153.02 L512.34 153.03 L513.41 153.04 L514.48 153.06 L515.55 153.07 L516.62 153.08 L517.68 153.10 L518.75 153.11 L519.82 153.12 L520.89 153.13 L521.96 153.15 L523.03 153.16 L524.10 153.17 L525.17 153.18 L526.24 153.19 L527.30 153.20 L528.37 153.21 L529.44 153.22 L530.51 153.23 L531.58 153.25 L532.65 153.26 L533.72 153.27 L534.79 153.28 L535.86 153.29 L536.92 153.29 L537.99 153.30 L539.06 153.31 L540.13 153.32 L541.20 153.33 L542.27 153.34 L543.34 153.35 L544.41 153.36 L545.48 153.37 L546.54 153.37 L547.61 153.38 L548.68 153.39 L549.75 153.40 L550.82 153.41 L551.89 153.41 L552.96 153.42 L554.03 153.43 L555.10 153.44 L556.16 153.44 L557.23 153.45 L558.30 153.46 L559.37 153.47 L560.44 153.47 L561.51 153.48 L562.58 153.49 L563.65 153.49 L564.71 153.50 L565.78 153.51 L566.85 153.51 L567.92 153.52 L568.99 153.52 L570.06 153.53 L571.13 153.54 L572.20 153.54 L573.27 153.55 L574.33 153.55 L575.40 153.56 L576.47 153.56 L577.54 153.57 L578.61 153.58 L579.68 153.58 L580.75 153.59 L581.82 153.59 L582.89 153.60 L583.95 153.60 L585.02 153.61 L586.09 153.61 L587.16 153.62 L588.23 153.62 L589.30 153.62 L590.37 153.63 L591.44 153.63 L592.51 153.64 L593.57 153.64 L594.64 153.65 L595.71 153.65 L596.78 153.65 L597.85 153.66 L598.92 153.66 L599.99 153.67 L601.06 153.67 L602.13 153.67 L603.19 153.68 L604.26 153.68 L605.33 153.69 L606.40 153.69 L607.47 153.69 L608.54 153.70 L609.61 153.70 L610.68 153.70 L611.75 153.71 L612.81 153.71 L613.88 153.71 L614.95 153.72 L616.02 153.72 L617.09 153.72 L618.16 153.73 L619.23 153.73 L620.30 153.73 L621.37 153.73 L622.43 153.74 L623.50 153.74 L624.57 153.74 L625.64 153.75 L626.71 153.75 L627.78 153.75 L628.85 153.75 L629.92 153.76 L630.99 153.76 L632.05 153.76 L633.12 153.76 L634.19 153.77 L635.26 153.77 L636.33 153.77 L637.40 153.77 L638.47 153.78 L639.54 153.78 L640.61 153.78 L641.67 153.78 L642.74 153.79 L643.81 153.79 L644.88 153.79 L645.95 153.79 L647.02 153.79 L648.09 153.80 L649.16 153.80 L650.23 153.80 L651.29 153.80 L652.36 153.80 L653.43 153.80 L654.50 153.81 L655.57 153.81 L656.64 153.81 L657.71 153.81 L658.78 153.81 L659.84 153.82 L660.91 153.82 L661.98 153.82 L663.05 153.82 L664.12 153.82 L665.19 153.82 L666.26 153.82 L667.33 153.83 L668.40 153.83 L669.46 153.83 L670.53 153.83 L671.60 153.83 L672.67 153.83 L673.74 153.83 L674.81 153.84 L675.88 153.84 L676.95 153.84 L678.02 153.84 L679.08 153.84 L680.15 153.84 L681.22 153.84 L682.29 153.84 L683.36 153.84 L684.43 153.85 L685.50 153.85 L686.57 153.85 L687.64 153.85 L688.70 153.85 L689.77 153.85 L690.84 153.85 L691.91 153.85 L692.98 153.85 L694.05 153.85 L695.12 153.86 L696.19 153.86 L697.26 153.86 L698.32 153.86 L699.39 153.86 L700.46 153.86 L701.53 153.86 L702.60 153.86 L703.67 153.86 L704.74 153.86 L705.81 153.86 L706.88 153.86 L707.94 153.86 L709.01 153.86 L710.08 153.87 L711.15 153.87 L712.22 153.87 L713.29 153.87 L714.36 153.87 L715.43 153.87 L716.50 153.87 L717.56 153.87 L718.63 153.87 L719.70 153.87 L720.77 153.87 L721.84 153.87 L722.91 153.87 L723.98 153.87 L725.05 153.87 L726.12 153.87 L727.18 153.87 L728.25 153.87 L729.32 153.87 L729.50 153.87" stroke="#ff0000"/>
</g>
<text x="126.0" y="81.16" font-size="28.40" text-anchor="end">0.002</text>
<text x="126.0" y="169.80" font-size="28.40" text-anchor="end">0.000</text>
<text x="126.0" y="258.44" font-size="28.40" text-anchor="end">0.002</text>
<line x1="45.5" y1="251.14" x2="59.4" y2="251.14" stroke="#000" stroke-width="1.35"/>
<text x="126.0" y="347.08" font-size="28.40" text-anchor="end">0.004</text>
<line x1="45.5" y1="339.78" x2="59.4" y2="339.78" stroke="#000" stroke-width="1.35"/>
<text x="142.80" y="412.9" font-size="28.90" text-anchor="middle">0</text>
<text x="260.00" y="412.9" font-size="28.90" text-anchor="middle">1</text>
<text x="377.20" y="412.9" font-size="28.90" text-anchor="middle">2</text>
<text x="494.40" y="412.9" font-size="28.90" text-anchor="middle">3</text>
<text x="611.60" y="412.9" font-size="28.90" text-anchor="middle">4</text>
<text x="728.80" y="412.9" font-size="28.90" text-anchor="middle">5</text>
<text x="436.0" y="452.7" font-size="28" text-anchor="middle">r [km]</text>
<text transform="translate(29.4 195.0) rotate(-90)" font-size="29" text-anchor="middle">Energy <tspan font-size="28" dx="2">conditions</tspan><tspan dx="2"> [km</tspan><tspan font-size="19.5" dy="-11.4">−2</tspan><tspan dy="11.4">]</tspan></text>
<line x1="437.30" y1="301.20" x2="462.90" y2="301.20" stroke="#000000" stroke-width="2.5"/>
<line x1="536.00" y1="301.20" x2="562.40" y2="301.20" stroke="#0000b3" stroke-width="2.5"/>
<line x1="437.30" y1="349.30" x2="462.90" y2="349.30" stroke="#ff8000" stroke-width="2.5"/>
<line x1="580.20" y1="349.30" x2="606.10" y2="349.30" stroke="#ff0000" stroke-width="2.5"/>
<text class="lg" transform="translate(474.60 310.00) scale(1.0430 1)" font-size="20.50"><tspan font-style="italic">ϵ</tspan> ≥ 0</text>
<text class="lg" transform="translate(574.20 310.00) scale(1.0140 1)" font-size="20.50"><tspan font-style="italic">ϵ</tspan> + <tspan font-style="italic">p</tspan><tspan font-size="14.5" dy="4.3"><tspan font-style="italic">r</tspan></tspan><tspan dy="-4.3" font-size="14.5"> </tspan> + 2<tspan font-style="italic">p</tspan><tspan font-size="14.5" dy="4.3"><tspan font-style="italic">θ</tspan></tspan><tspan dy="-4.3" font-size="14.5"> </tspan> ≥ 0</text>
<text class="lg" transform="translate(474.60 358.00) scale(1.0260 1)" font-size="20.50"><tspan font-style="italic">ϵ</tspan> + <tspan font-style="italic">p</tspan><tspan font-size="14.5" dy="4.3"><tspan font-style="italic">θ</tspan></tspan><tspan dy="-4.3" font-size="14.5"> </tspan> ≥ 0</text>
<text class="lg" transform="translate(617.40 358.00) scale(1.0300 1)" font-size="20.50"><tspan font-style="italic">ϵ</tspan> − <tspan font-style="italic">p</tspan><tspan font-size="14.5" dy="4.3"><tspan font-style="italic">θ</tspan></tspan><tspan dy="-4.3" font-size="14.5"> </tspan> ≥ 0</text>
</svg></body></html>
